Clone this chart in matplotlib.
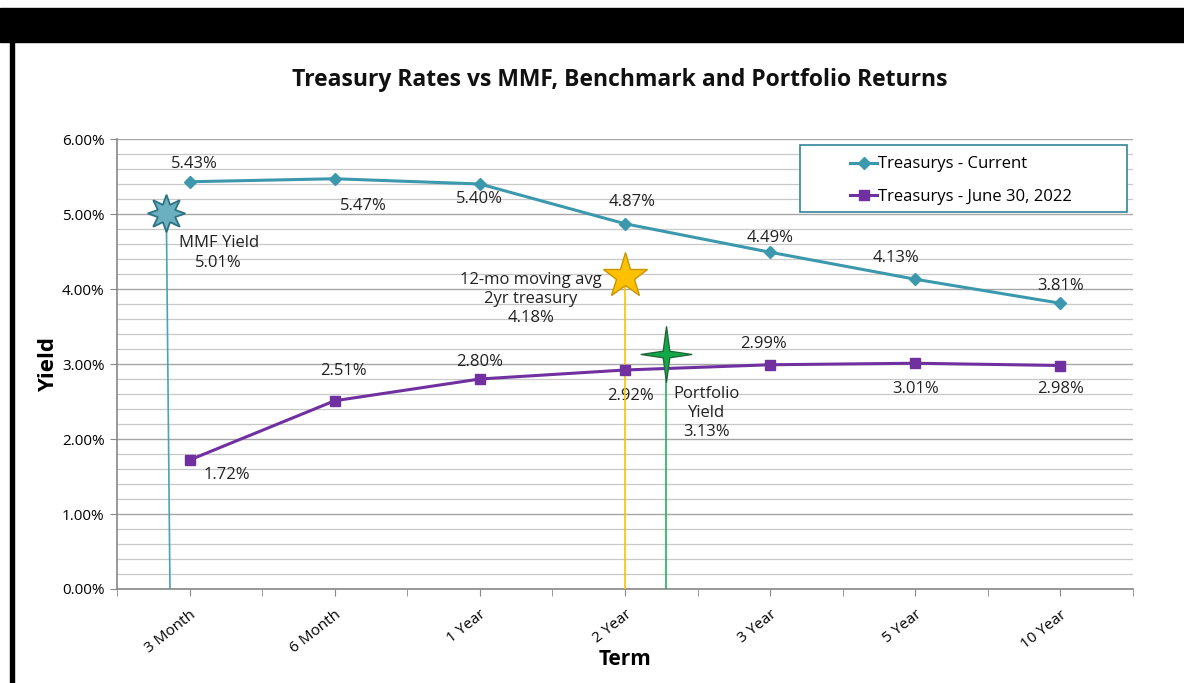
import matplotlib
matplotlib.use("Agg")
import matplotlib.pyplot as plt
from matplotlib.path import Path
from matplotlib.patches import Rectangle
from matplotlib.ticker import FuncFormatter, MultipleLocator
import numpy as np

plt.rcParams['font.family'] = ['Open Sans', 'DejaVu Sans']

terms = ["3 Month", "6 Month", "1 Year", "2 Year", "3 Year", "5 Year", "10 Year"]
current = [5.43, 5.47, 5.40, 4.87, 4.49, 4.13, 3.81]
june2022 = [1.72, 2.51, 2.80, 2.92, 2.99, 3.01, 2.98]

mmf_yield = 5.01
mmf_x = -0.16
bench_yield = 4.18
bench_x = 3.0
port_yield = 3.13
port_x = 3.28

# label offsets in pixels (dx, dy; positive dy = up)
current_offsets = [(5, 18), (29, -27), (0, -15), (7, 22), (0, 14), (-19, 21), (0, 17)]
june_offsets = [(37, -15), (9, 30), (0, 17), (5, -26), (-7, 21), (0, -26), (0, -23)]

teal = "#3C98AC"
purple = "#7030A0"
px = 0.72  # points per pixel at 100 dpi
lab_fs = 12

fig = plt.figure(figsize=(11.84, 6.83), dpi=100)
ax = fig.add_axes([117/1184, 1-589/683, (1133-117)/1184, (589-139)/683])

x = np.arange(len(terms))
l1, = ax.plot(x, current, color=teal, lw=2.2, marker='D', ms=6, zorder=4)
l2, = ax.plot(x, june2022, color=purple, lw=2.2, marker='s', ms=7, zorder=4)

for xi, v, (dx, dy) in zip(x, current, current_offsets):
    ax.annotate(f"{v:.2f}%", (xi, v), xytext=(dx*px, dy*px), textcoords="offset points",
                ha="center", va="center", fontsize=lab_fs, color="#222222")
for xi, v, (dx, dy) in zip(x, june2022, june_offsets):
    ax.annotate(f"{v:.2f}%", (xi, v), xytext=(dx*px, dy*px), textcoords="offset points",
                ha="center", va="center", fontsize=lab_fs, color="#222222")

# MMF star (8 points)
ax.plot([mmf_x, mmf_x + 0.025], [mmf_yield, 0], color="#4AA3B8", lw=1.2, zorder=3)
ax.plot([mmf_x], [mmf_yield], marker=(8, 1, 0), ms=27, mfc="#6BB0C0", mec="#2E7383", mew=1.3, zorder=5)
ax.text(mmf_x + 0.36, mmf_yield - 0.53, "MMF Yield\n5.01%", ha="center", va="center",
        fontsize=lab_fs, color="#222222", linespacing=1.3)

# Benchmark star (5 points)
ax.plot([bench_x, bench_x], [bench_yield, 0], color="#FFC000", lw=1.2, zorder=3)
ax.plot([bench_x], [bench_yield], marker='*', ms=34, mfc="#FFC000", mec="#C79500", mew=1.0, zorder=5)
ax.text(bench_x - 0.65, bench_yield - 0.31, "12-mo moving avg\n2yr treasury\n4.18%", ha="center", va="center",
        fontsize=lab_fs, color="#222222", linespacing=1.25)

# Portfolio star (4 points)
r_in = 0.13
star4 = Path([(1.0, 0), (r_in, r_in), (0, 1.1), (-r_in, r_in), (-1.0, 0), (-r_in, -r_in),
              (0, -1.1), (r_in, -r_in), (1.0, 0)], closed=True)
ax.plot([port_x, port_x], [port_yield, 0], color="#22B060", lw=1.2, zorder=3)
ax.plot([port_x], [port_yield], marker=star4, ms=40, mfc="#12A84A", mec="#1E6B37", mew=1.0, zorder=5)
ax.text(port_x + 0.28, port_yield - 0.78, "Portfolio\nYield\n3.13%", ha="center", va="center",
        fontsize=lab_fs, color="#222222", linespacing=1.25)

ax.set_xlim(-0.5, len(terms) - 0.5)
ax.set_ylim(0, 6)
ax.yaxis.set_major_locator(MultipleLocator(1))
ax.yaxis.set_minor_locator(MultipleLocator(0.2))
ax.yaxis.set_major_formatter(FuncFormatter(lambda v, p: f"{v:.2f}%"))
ax.grid(axis='y', which='major', color="#A6A6A6", lw=1.0, zorder=0)
ax.grid(axis='y', which='minor', color="#C8C8C8", lw=0.9, zorder=0)
ax.set_axisbelow(True)

ax.set_xticks(x)
ax.set_xticklabels(terms, rotation=38, ha="right", rotation_mode="anchor", fontsize=11)
ax.set_xticks(np.arange(-0.5, len(terms)), minor=True)
ax.tick_params(axis='x', which='both', length=5, color="#888888", pad=8)
ax.tick_params(axis='y', which='major', length=5, color="#888888", labelsize=11, pad=4)
ax.tick_params(axis='y', which='minor', length=0)
for s in ["top", "right"]:
    ax.spines[s].set_visible(False)
for s in ["left", "bottom"]:
    ax.spines[s].set_color("#888888")
    ax.spines[s].set_linewidth(1.2)

ax.set_xlabel("Term", fontsize=15, fontweight="bold", labelpad=-5)
ax.set_ylabel("Yield", fontsize=16, fontweight="bold", labelpad=2)

# legend box (Excel style, wide frame with handles indented)
ax.add_patch(Rectangle(((800-117)/1016, (589-212)/450), (1127-800)/1016, (212-145)/450,
                       transform=ax.transAxes, facecolor="white", edgecolor="#31849B", lw=1.2, zorder=6))
leg = ax.legend([l1, l2], ["Treasurys - Current", "Treasurys - June 30, 2022"],
                loc="upper left", bbox_to_anchor=((842-117)/1016, (589-148)/450),
                fontsize=12, frameon=False, handlelength=1.6, handletextpad=0.05,
                labelspacing=1.0, borderpad=0.5, borderaxespad=0)
leg.set_zorder(7)

fig.text(620/1184, 1-80/683, "Treasury Rates vs MMF, Benchmark and Portfolio Returns",
         ha="center", va="center", fontsize=16.5, fontweight="bold", color="#111111")

# black frame elements
fig.patches.append(Rectangle((0, 1-42/683), 1, 34/683, transform=fig.transFigure, color="black", zorder=10))
fig.patches.append(Rectangle((10/1184, 0), 4/1184, 1-42/683, transform=fig.transFigure, color="black", zorder=10))

fig.savefig("out.png", dpi=100)
